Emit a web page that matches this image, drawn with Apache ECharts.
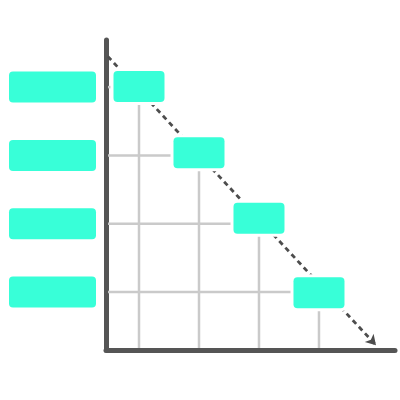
<!DOCTYPE html>
<html>
<head>
<meta charset="utf-8">
<script src="https://cdn.jsdelivr.net/npm/echarts@6/dist/echarts.min.js"></script>
<style>html,body{margin:0;padding:0;background:#fff}#c{width:400px;height:400px}</style>
</head>
<body>
<div id="c"></div>
<script>
// Data
const stepX = [1, 2, 3, 4];
const rowY = [4, 3, 2, 1];
const boxY = [4.01, 3.04, 2.08, 0.99];
const rowValues = [1, 2, 3, 4];
const arrowStart = [0.48, 4.45];
const arrowEnd = [4.95, 0.22];

const BOX = '#38FFD8';
const AXIS = '#555555';
const GRID = '#cacaca';

const chart = echarts.init(document.getElementById('c'));
const xMin = 0.45, xMax = 5.267, yMin = 0.15, yMax = 4.69;

chart.setOption({
  animation: false,
  grid: { left: 106, top: 40, right: 5, bottom: 50, containLabel: false },
  xAxis: {
    type: 'value', min: xMin, max: xMax,
    axisLine: { show: true, lineStyle: { color: AXIS, width: 5, cap: 'round' } },
    axisTick: { show: false }, axisLabel: { show: false }, splitLine: { show: false }
  },
  yAxis: {
    type: 'value', min: yMin, max: yMax,
    axisLine: { show: true, lineStyle: { color: AXIS, width: 5, cap: 'round' } },
    axisTick: { show: false }, splitLine: { show: false },
    axisLabel: {
      show: true, customValues: rowValues, margin: 10,
      formatter: () => '{box|}',
      rich: { box: { width: 87, height: 31, backgroundColor: BOX, borderRadius: 4 } }
    }
  },
  series: [
    {
      type: 'line', data: [], z: 1, silent: true,
      markLine: {
        silent: true, animation: false,
        symbol: ['none', 'arrow'], symbolSize: [9, 10],
        label: { show: false },
        lineStyle: { color: '#4d4d4d', width: 2.8, type: [5, 4] },
        emphasis: { disabled: true },
        data: [[{ coord: arrowStart }, { coord: arrowEnd }]]
      }
    },
    {
      type: 'custom', z: 5, silent: true, clip: false,
      data: stepX.map((x, i) => [x, rowY[i], boxY[i]]),
      renderItem: (params, api) => {
        const g = api.coord([api.value(0), api.value(1)]);
        const b = api.coord([api.value(0), api.value(2)]);
        const ax = api.coord([xMin, api.value(1)]);
        const ay = api.coord([api.value(0), yMin]);
        const w = 51, h = 31, halo = 3;
        return {
          type: 'group',
          children: [
            { type: 'line', shape: { x1: ax[0] + 2, y1: g[1], x2: g[0] - w / 2, y2: g[1] },
              style: { stroke: GRID, lineWidth: 2.5 } },
            { type: 'line', shape: { x1: g[0], y1: b[1] + h / 2, x2: g[0], y2: ay[1] - 2 },
              style: { stroke: GRID, lineWidth: 2.5 } },
            { type: 'rect', shape: { x: b[0] - w / 2 - halo, y: b[1] - h / 2 - halo, width: w + 2 * halo, height: h + 2 * halo, r: 6 },
              style: { fill: '#ffffff' } },
            { type: 'rect', shape: { x: b[0] - w / 2, y: b[1] - h / 2, width: w, height: h, r: 4 },
              style: { fill: BOX } }
          ]
        };
      }
    }
  ]
});
</script>
</body>
</html>
